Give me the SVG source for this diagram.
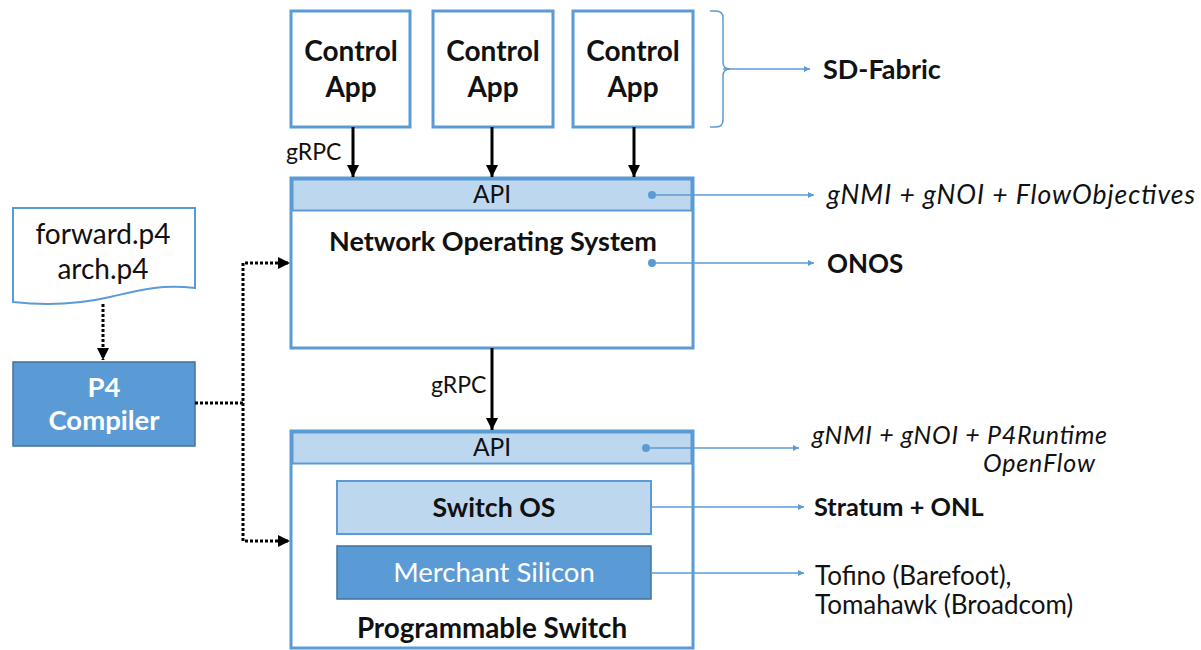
<svg xmlns="http://www.w3.org/2000/svg" width="1201" height="650" viewBox="0 0 1201 650">
<style>
text{font-family:Lato,"Open Sans","Liberation Sans",sans-serif;fill:#111}
.b{font-weight:bold}
.i{font-style:italic}
.box{fill:#fff;stroke:#5B9BD5;stroke-width:3}
.lt{fill:#BDD7EE;stroke:#5B9BD5;stroke-width:2}
.dk{fill:#5B9BD5;stroke:#41719C;stroke-width:1.5}
.bl{fill:none;stroke:#5B9BD5;stroke-width:1.5}
.blk{fill:none;stroke:#000;stroke-width:3}
.dot{fill:none;stroke:#000;stroke-width:3;stroke-dasharray:3 2}
</style>
<defs>
<marker id="ab" viewBox="0 0 10 10" refX="10" refY="5" markerWidth="6" markerHeight="6" orient="auto" markerUnits="userSpaceOnUse"><path d="M0,0L10,5L0,10z" fill="#5B9BD5"/></marker>
<marker id="ak" viewBox="0 0 10 10" refX="10" refY="5" markerWidth="12" markerHeight="12" orient="auto" markerUnits="userSpaceOnUse"><path d="M0,0L10,5L0,10z" fill="#000"/></marker>
</defs>
<g id="app1"><rect class="box" x="291" y="11" width="119" height="116"/><text class="b" x="351" y="61" font-size="28" text-anchor="middle">Control</text><text class="b" x="351" y="97" font-size="28" text-anchor="middle">App</text></g>
<g id="app2"><rect class="box" x="433" y="11" width="120" height="116"/><text class="b" x="493" y="61" font-size="28" text-anchor="middle">Control</text><text class="b" x="493" y="97" font-size="28" text-anchor="middle">App</text></g>
<g id="app3"><rect class="box" x="573" y="11" width="120" height="116"/><text class="b" x="633" y="61" font-size="28" text-anchor="middle">Control</text><text class="b" x="633" y="97" font-size="28" text-anchor="middle">App</text></g>
<g id="nos"><rect class="box" x="291" y="178" width="402" height="170"/><rect class="lt" x="292.5" y="179.5" width="399" height="31"/><text x="492" y="203" font-size="24.5" text-anchor="middle">API</text><text class="b" x="493" y="251" font-size="27" text-anchor="middle">Network Operating System</text></g>
<g id="switch"><rect class="box" x="291" y="431" width="402" height="217"/><rect class="lt" x="292.5" y="432.5" width="399" height="31"/><text x="492" y="456" font-size="24.5" text-anchor="middle">API</text><rect class="lt" x="337" y="481" width="314" height="53"/><text class="b" x="494" y="517" font-size="26.7" text-anchor="middle">Switch OS</text><rect class="dk" x="337" y="546" width="314" height="53"/><text x="494" y="582" font-size="27.5" text-anchor="middle" style="fill:#fff">Merchant Silicon</text><text class="b" x="492" y="638" font-size="27.8" text-anchor="middle">Programmable Switch</text></g>
<g id="p4file"><path d="M13,208H195V288C160,284 140,290 110,297C80,304 50,306 13,302Z" fill="#fff" stroke="#5B9BD5" stroke-width="2"/><text x="103" y="244" font-size="28" text-anchor="middle">forward.p4</text><text x="103" y="279" font-size="28" text-anchor="middle">arch.p4</text></g>
<g id="p4compiler"><rect class="dk" x="13" y="362" width="182" height="84"/><text class="b" x="104" y="397" font-size="27.5" text-anchor="middle" style="fill:#fff">P4</text><text class="b" x="104" y="430" font-size="27.5" text-anchor="middle" style="fill:#fff">Compiler</text></g>
<g id="sdfabric"><text class="b" x="823" y="79" font-size="27">SD-Fabric</text></g>
<g id="lbl-api1"><text class="i" x="827" y="204" font-size="26.5" textLength="368">gNMI + gNOI + FlowObjectives</text></g>
<g id="lbl-onos"><text class="b" x="827" y="273" font-size="26">ONOS</text></g>
<g id="lbl-api2"><text class="i" x="812" y="444" font-size="25" textLength="295">gNMI + gNOI + P4Runtime</text><text class="i" x="983" y="472" font-size="25" textLength="112">OpenFlow</text></g>
<g id="lbl-stratum"><text class="b" x="814" y="516" font-size="25.3">Stratum + ONL</text></g>
<g id="lbl-tofino"><text x="815" y="585" font-size="26">Tofino (Barefoot),</text><text x="815" y="614" font-size="26">Tomahawk (Broadcom)</text></g>
<g id="connectors">
<line class="blk" x1="353" y1="127" x2="353" y2="177" marker-end="url(#ak)"/>
<line class="blk" x1="492" y1="127" x2="492" y2="177" marker-end="url(#ak)"/>
<line class="blk" x1="634" y1="127" x2="634" y2="177" marker-end="url(#ak)"/>
<text x="286" y="160" font-size="23">gRPC</text>
<line class="blk" x1="492" y1="348" x2="492" y2="430" marker-end="url(#ak)"/>
<text x="431" y="393" font-size="23">gRPC</text>
<path class="bl" d="M710,11H716Q723,11 723,18V62Q723,69 730,69Q723,69 723,76V120Q723,127 716,127H710"/>
<line class="bl" x1="723" y1="69" x2="810" y2="69" marker-end="url(#ab)"/>
<circle cx="652" cy="195" r="4" fill="#5B9BD5"/>
<line class="bl" x1="652" y1="195" x2="814" y2="195" marker-end="url(#ab)"/>
<circle cx="652" cy="263" r="4" fill="#5B9BD5"/>
<line class="bl" x1="652" y1="263" x2="814" y2="263" marker-end="url(#ab)"/>
<circle cx="646" cy="448" r="4" fill="#5B9BD5"/>
<line class="bl" x1="646" y1="448" x2="799" y2="448" marker-end="url(#ab)"/>
<line class="bl" x1="651" y1="507" x2="804" y2="507" marker-end="url(#ab)"/>
<line class="bl" x1="651" y1="573" x2="804" y2="573" marker-end="url(#ab)"/>
<line class="dot" x1="103" y1="304" x2="103" y2="360" marker-end="url(#ak)"/>
<path class="dot" d="M195,403H243V263H288"/>
<path class="dot" d="M243,403V541H288"/>
<path d="M278,257L290,263L278,269z" fill="#000"/>
<path d="M278,535L290,541L278,547z" fill="#000"/>
</g>
</svg>
